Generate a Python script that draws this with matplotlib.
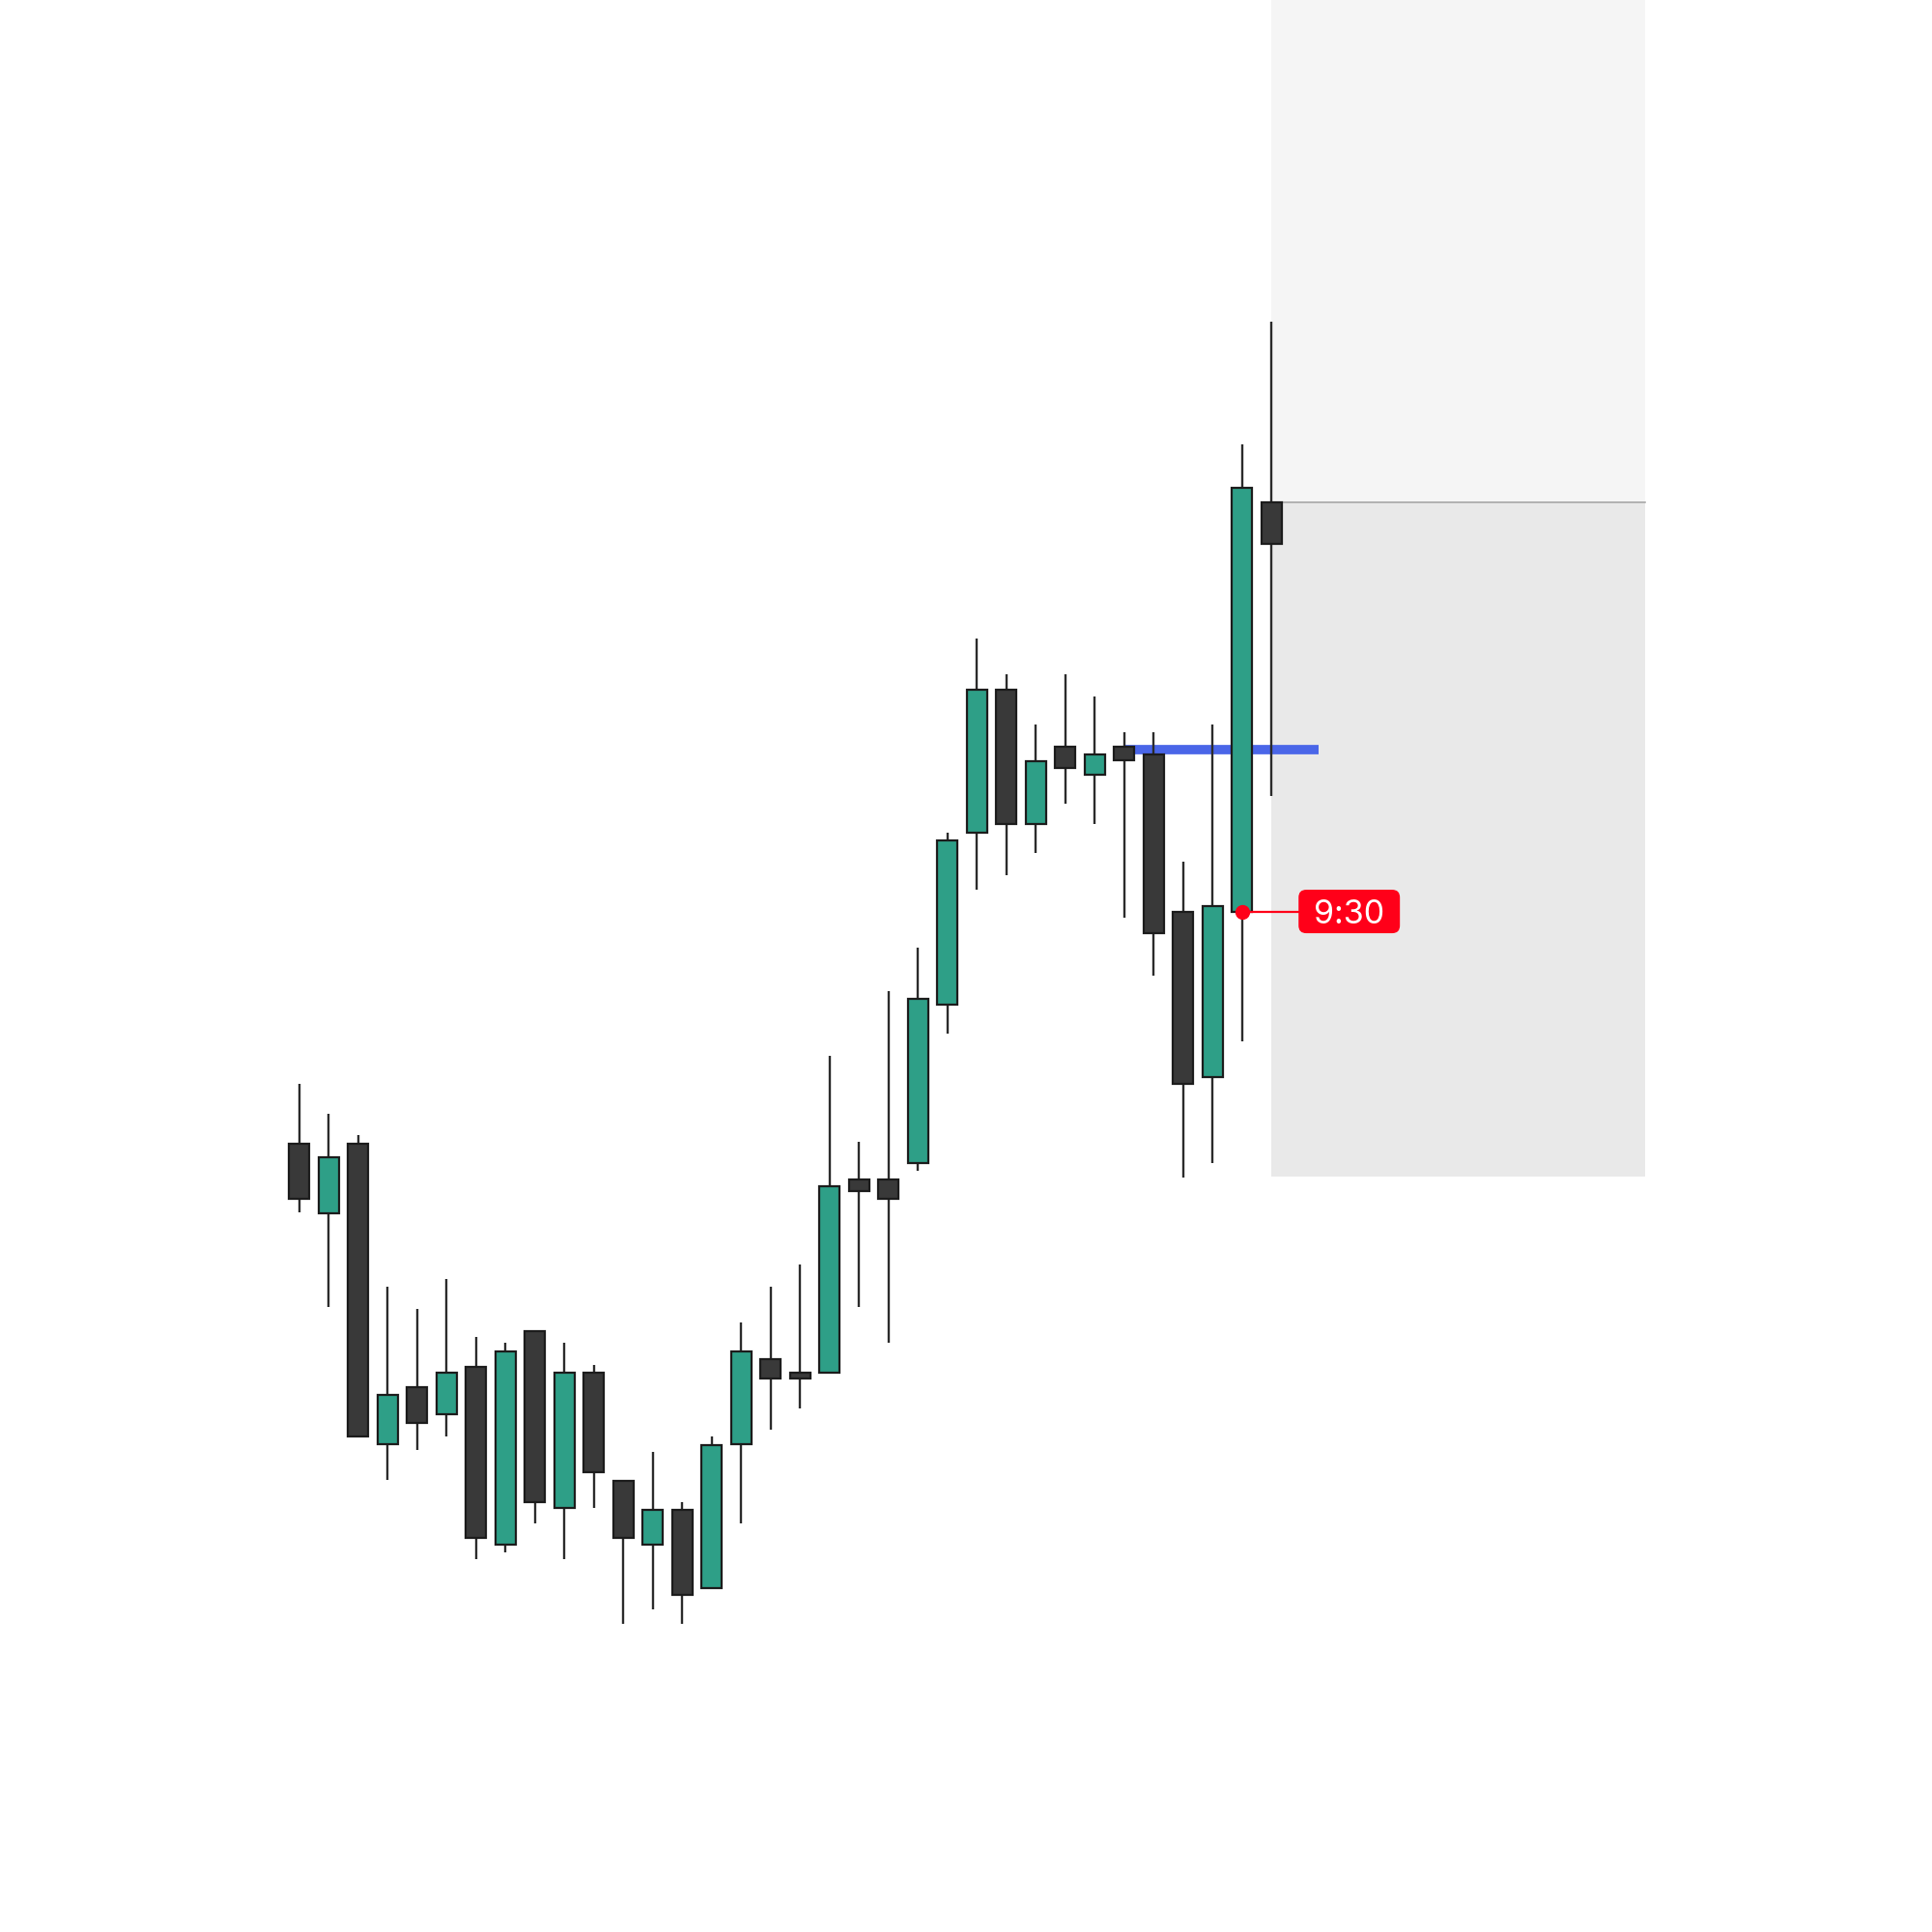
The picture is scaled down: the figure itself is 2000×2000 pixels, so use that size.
import matplotlib
matplotlib.use("Agg")
import matplotlib.pyplot as plt
from matplotlib.patches import Rectangle, FancyBboxPatch

# ---------- OHLC (arbitrary price units) ----------
opens  = [64.0, 58.3, 64.0, 39.6, 44.2, 42.0, 45.9, 31.4, 48.8, 34.4, 45.4, 36.6,
          31.4, 34.3, 27.9, 39.6, 46.5, 45.4, 45.4, 61.1, 61.1, 62.4, 75.3, 89.2,
          100.8, 89.9, 96.2, 93.9, 96.2, 95.6, 82.8, 69.4, 82.8, 116.0]
highs  = [68.8, 66.4, 64.7, 52.4, 50.6, 53.0, 48.3, 47.8, 48.8, 47.8, 46.0, 36.6,
          39.0, 34.9, 40.2, 49.5, 52.4, 54.2, 71.1, 64.1, 76.4, 79.9, 89.2, 105.0,
          102.1, 98.0, 102.1, 100.3, 97.4, 97.4, 86.9, 98.0, 120.7, 130.7]
lows   = [58.4, 50.7, 40.2, 36.7, 39.1, 40.2, 30.3, 30.8, 33.2, 30.3, 34.4, 25.0,
          26.2, 25.0, 27.9, 33.2, 40.8, 42.5, 45.4, 50.7, 47.8, 61.8, 72.9, 84.6,
          85.8, 87.6, 91.6, 89.9, 82.3, 77.6, 61.2, 62.4, 72.3, 92.2]
closes = [59.5, 62.9, 40.2, 43.6, 41.3, 45.4, 32.0, 47.1, 34.9, 45.4, 37.3, 32.0,
          34.3, 27.4, 39.5, 47.1, 44.9, 44.9, 60.5, 60.1, 59.5, 75.7, 88.6, 100.8,
          89.9, 95.0, 94.5, 95.6, 95.1, 81.1, 68.8, 83.3, 117.2, 112.7]

level_price = 96.0        # blue horizontal level
zone_mid = 116.0          # split between the two grey zones
zone_low = 61.3           # bottom of the grey zone
marker_idx = 32           # candle carrying the 9:30 label
marker_price = 82.8
label_text = "9:30"

UP = "#2E9F87"
DOWN = "#393939"
EDGE = "#1c1c1c"
WICK = "#2b2b2b"
RED = "#FF0019"

fig = plt.figure(figsize=(20, 20), dpi=100)
ax = fig.add_axes([0, 0, 1, 1])
ax.set_xlim(-10.154, 55.42)
ax.set_ylim(0, 156.8)
ax.axis("off")

# ---------- grey zones to the right of the last candle ----------
last = len(opens) - 1
zone_end = 45.68
ax.add_patch(Rectangle((last, zone_mid), zone_end - last, 156.8 - zone_mid,
                       fc="#f5f5f5", ec="none", zorder=0))
ax.add_patch(Rectangle((last, zone_low), zone_end - last, zone_mid - zone_low,
                       fc="#e9e9e9", ec="none", zorder=0))
ax.plot([last, zone_end], [zone_mid, zone_mid], color="#a8a8a8", lw=1.2, zorder=0.5)

# ---------- blue level ----------
ax.plot([28, 34.6], [level_price, level_price], color="#4A66E8", lw=7,
        solid_capstyle="butt", zorder=1)

# ---------- candles ----------
w = 0.68
for i, (o, h, l, c) in enumerate(zip(opens, highs, lows, closes)):
    ax.plot([i, i], [l, h], color=WICK, lw=1.7, zorder=2, solid_capstyle="butt")
    col = UP if c > o else DOWN
    ax.add_patch(Rectangle((i - w / 2, min(o, c)), w, max(abs(c - o), 0.25),
                           fc=col, ec=EDGE, lw=1.6, zorder=3))

# ---------- 9:30 marker ----------
box_x0, box_x1 = 33.92, 37.36
box_y0, box_y1 = 81.06, 84.59
ax.plot([marker_idx, box_x0], [marker_price, marker_price], color=RED, lw=1.6, zorder=4)
ax.plot(marker_idx, marker_price, "o", color=RED, ms=10, zorder=4.5)
ax.add_patch(FancyBboxPatch((box_x0, box_y0), box_x1 - box_x0, box_y1 - box_y0,
                            boxstyle="round,pad=0,rounding_size=0.26",
                            mutation_aspect=2.39, fc=RED, ec="none", zorder=5))
ax.text((box_x0 + box_x1) / 2, (box_y0 + box_y1) / 2, label_text, color="white",
        fontsize=24.5, family=["Inter", "DejaVu Sans"], ha="center", va="center_baseline",
        zorder=6)

fig.savefig("out.png", dpi=100, facecolor="white")
